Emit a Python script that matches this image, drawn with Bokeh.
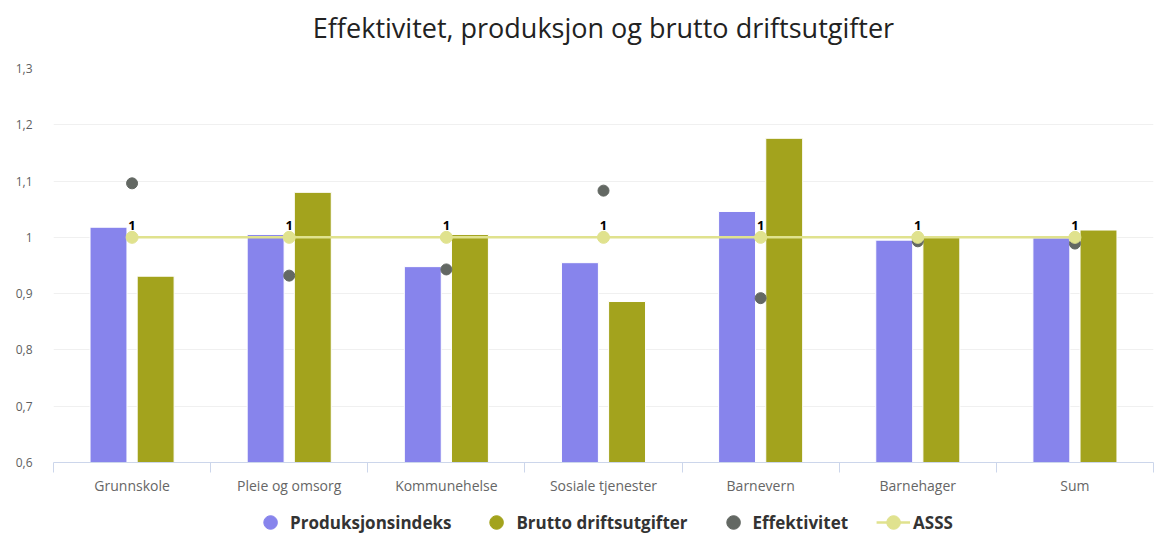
from bokeh.plotting import figure
from bokeh.layouts import column
from bokeh.models import (ColumnDataSource, Range1d, FixedTicker, Title,
                          CustomJSTickFormatter, Legend, LegendItem)
from bokeh.transform import dodge
from bokeh.core.properties import value
from bokeh.embed import file_html
from bokeh.resources import INLINE

categories = ["Grunnskole", "Pleie og omsorg", "Kommunehelse", "Sosiale tjenester",
              "Barnevern", "Barnehager", "Sum"]
produksjonsindeks = [1.018, 1.005, 0.948, 0.955, 1.046, 0.995, 0.999]
brutto_driftsutgifter = [0.931, 1.080, 1.005, 0.886, 1.176, 1.000, 1.013]
effektivitet = [1.096, 0.932, 0.943, 1.083, 0.892, 0.993, 0.989]
asss = [1, 1, 1, 1, 1, 1, 1]
y_ticks = [0.6, 0.7, 0.8, 0.9, 1.0, 1.1, 1.2, 1.3]

BLUE = "#8784ec"
OLIVE = "#a3a31d"
GRAY = "#636863"
YELLOW = "#e0e28e"
FONT = "Open Sans"

n = len(categories)
centres = [i + 0.5 for i in range(n)]  # category slot centres on a 0..n axis

src = ColumnDataSource(dict(x=centres, cat=categories, prod=produksjonsindeks,
                            brutto=brutto_driftsutgifter, eff=effektivitet, asss=asss,
                            asss_label=[f"{v:g}".replace(".", ",") for v in asss]))

p = figure(width=1160, height=504, x_range=Range1d(0, n),
           y_range=Range1d(y_ticks[0], y_ticks[-1]),
           output_backend="svg", toolbar_location=None,
           min_border_left=53, min_border_right=7, min_border_top=68, min_border_bottom=42)
p.outline_line_color = None
p.background_fill_color = "white"
p.border_fill_color = "white"

# small spacer between frame and title
p.add_layout(Title(text="\u00a0", text_font_size="6px"), "above")
p.title.text = "Effektivitet, produksjon og brutto driftsutgifter"
p.title.align = "center"
p.title.text_font = FONT
p.title.text_font_style = "normal"
p.title.text_font_size = "27px"
p.title.text_line_height = 1.0
p.title.text_color = "#222222"

# y axis
p.yaxis.ticker = FixedTicker(ticks=y_ticks)
p.yaxis.formatter = CustomJSTickFormatter(
    code="return tick.toFixed(1).replace('.', ',').replace(',0', '')")
p.yaxis.axis_line_color = None
p.yaxis.major_tick_line_color = None
p.yaxis.major_tick_out = 0
p.yaxis.minor_tick_line_color = None
p.yaxis.major_label_text_font = FONT
p.yaxis.major_label_text_font_size = "12px"
p.yaxis.major_label_text_color = "#5f5f5f"
p.yaxis.major_label_standoff = 21
p.ygrid.ticker = FixedTicker(ticks=y_ticks)
p.ygrid.grid_line_color = "#f0f0f0"
p.xgrid.grid_line_color = None

# x axis: labels at category centres, ticks at category boundaries
xaxis = p.xaxis[0]
xaxis.ticker = FixedTicker(ticks=centres, minor_ticks=list(range(n + 1)))
xaxis.formatter = CustomJSTickFormatter(args=dict(labels=categories),
                                        code="return labels[Math.floor(tick)]")
xaxis.axis_line_color = "#ccd6eb"
xaxis.major_tick_line_color = None
xaxis.major_tick_out = 0
xaxis.minor_tick_line_color = "#ccd6eb"
xaxis.minor_tick_in = 0
xaxis.minor_tick_out = 10
xaxis.major_label_standoff = 3
xaxis.major_label_text_font = FONT
xaxis.major_label_text_font_size = "14px"
xaxis.major_label_text_color = "#666666"

# bars
p.vbar(x=dodge("x", -0.15), top="prod", bottom=0, width=0.235,
       source=src, fill_color=BLUE, line_color="white", line_width=1)
p.vbar(x=dodge("x", 0.15), top="brutto", bottom=0, width=0.235,
       source=src, fill_color=OLIVE, line_color="white", line_width=1)

# effektivitet
p.scatter(x="x", y="eff", source=src, size=11, color=GRAY, marker="circle")

# ASSS
p.line(x="x", y="asss", source=src, line_color=YELLOW, line_width=2.5)
p.scatter(x="x", y="asss", source=src, size=12, color=YELLOW, marker="circle")
p.text(x="x", y="asss", text="asss_label", source=src, text_align="center",
       text_baseline="alphabetic", y_offset=-12, text_font=value(FONT), text_font_style="bold",
       text_font_size="13px", text_color="#000000")

# legend strip below the chart: proxies use the same data, but the strip's ranges
# lie outside the data, so only the legend itself is visible
lf = figure(width=1160, height=36, x_range=Range1d(-3, -2), y_range=Range1d(-3, -2),
            output_backend="svg", toolbar_location=None, min_border=0)
lf.outline_line_color = None
lf.axis.visible = False
lf.grid.visible = False
l_blue = lf.scatter(x="x", y="prod", source=src, color=BLUE, marker="circle")
l_olive = lf.scatter(x="x", y="brutto", source=src, color=OLIVE, marker="circle")
l_gray = lf.scatter(x="x", y="eff", source=src, color=GRAY, marker="circle")
l_line = lf.line(x="x", y="asss", source=src, line_color=YELLOW, line_width=2.5)
l_dots = lf.scatter(x="x", y="asss", source=src, color=YELLOW, marker="circle")
legend = Legend(items=[
    LegendItem(label="Produksjonsindeks", renderers=[l_blue]),
    LegendItem(label="Brutto driftsutgifter", renderers=[l_olive]),
    LegendItem(label="Effektivitet", renderers=[l_gray]),
    LegendItem(label="ASSS", renderers=[l_line, l_dots]),
], orientation="horizontal", location="center",
    label_text_font=FONT, label_text_font_style="bold", label_text_font_size="17px",
    label_text_color="#333333", glyph_width=34, glyph_height=34, label_standoff=3,
    spacing=28, border_line_color=None, background_fill_alpha=0, padding=0, margin=0)
lf.add_layout(legend, "center")

layout = column(p, lf, spacing=0)
open("out.html", "w").write(file_html(layout, INLINE))
